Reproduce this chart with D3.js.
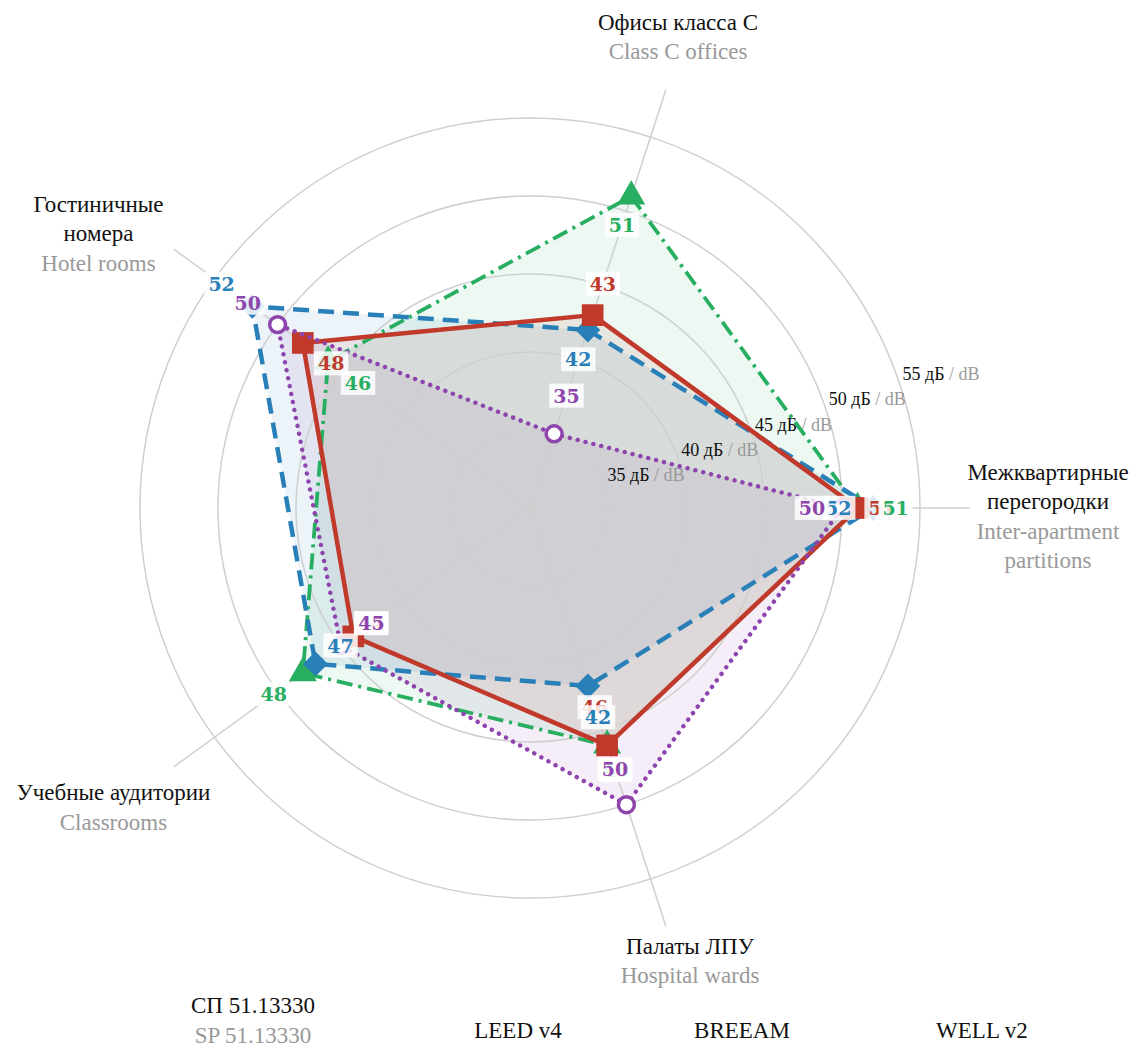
<!DOCTYPE html>
<html>
<head>
<meta charset="utf-8">
<script src="https://cdn.jsdelivr.net/npm/d3@7"></script>
<style>
  body { margin: 0; background: #fff; }
  svg { display: block; }
</style>
</head>
<body>
<svg id="chart" width="1136" height="1048"></svg>
<script>
// axes (Russian / English)
const axesRu = ["Офисы класса С", "Межквартирные перегородки", "Палаты ЛПУ", "Учебные аудитории", "Гостиничные номера"];
const axesRuLines = [["Офисы класса С"], ["Межквартирные", "перегородки"], ["Палаты ЛПУ"], ["Учебные аудитории"], ["Гостиничные", "номера"]];
const axesEnLines = [["Class C offices"], ["Inter-apartment", "partitions"], ["Hospital wards"], ["Classrooms"], ["Hotel rooms"]];

// series, dB values per axis
const seriesRu = ["СП 51.13330", "LEED v4", "BREEAM", "WELL v2"];
const seriesEn = ["SP 51.13330", "", "", ""];
const spValues = [43, 51, 46, 44, 48];
const leedValues = [42, 52, 42, 47, 52];
const breeamValues = [51, 51, 46, 48, 46];
const wellValues = [35, 50, 50, 45, 50];

const ringTicks = [35, 40, 45, 50, 55];

// styling
const colors = ["#c0392b", "#2980b9", "#27ae60", "#8e44ad"];
const dashes = [null, "16,9", "16,6,3,6", "0.1,8"];
const widths = [4.5, 4.5, 3.8, 4.4];
const markers = ["square", "diamond", "triangle", "circle"];
// radial shift of each value label from its point (px, + = outward)
const labelShift = [
  [33, 24, -40, -22, -35],
  [-31, -35, 33, -31, 38],
  [-30, 38, 26, 36, -37],
  [40, -30, -37, -38, 37]
];
const axisLabelNudge = [[-8, 9], [13, 8], [4, -28], [-8, 2], [-23, 22]];
const legendX = [253, 518, 742, 982];

const values = [spValues, leedValues, breeamValues, wellValues];

const cx = 530, cy = 508;
const svg = d3.select("#chart");
const r = d3.scaleLinear().domain([30, 55]).range([0, 390]);
const angle = d3.scaleLinear().domain([0, 5]).range([18, 378]);
const rad = i => angle(i) * Math.PI / 180;
const pt = (i, rr) => [cx + rr * Math.sin(rad(i)), cy - rr * Math.cos(rad(i))];

const g = svg.append("g");

// polygons fill
const line = d3.line().curve(d3.curveLinearClosed);
[3, 2, 1, 0].forEach(s => {
  g.append("path")
    .attr("d", line(values[s].map((v, i) => pt(i, r(v)))))
    .attr("fill", colors[s])
    .attr("fill-opacity", 0.09)
    .attr("stroke", "none");
});

// grid rings
g.selectAll(".ring").data(ringTicks).enter().append("circle")
  .attr("cx", cx).attr("cy", cy).attr("r", d => r(d))
  .attr("fill", "none").attr("stroke", "#cfcfcf").attr("stroke-width", 1.5);

// axis lines
g.selectAll(".axis").data(axesRu).enter().append("line")
  .attr("x1", cx).attr("y1", cy)
  .attr("x2", (d, i) => pt(i, 440)[0]).attr("y2", (d, i) => pt(i, 440)[1])
  .attr("stroke", "#cfcfcf").attr("stroke-width", 1.5);

// ring labels
const ringAng = 71 * Math.PI / 180;
ringTicks.forEach(t => {
  const rr = r(t) + 4;
  const tx = g.append("text")
    .attr("x", cx + rr * Math.sin(ringAng))
    .attr("y", cy - rr * Math.cos(ringAng))
    .attr("font-family", "Liberation Serif, serif")
    .attr("font-size", 18);
  tx.append("tspan").attr("fill", "#111").text(t + " дБ");
  tx.append("tspan").attr("fill", "#999").text(" / dB");
});

// series lines + markers
[2, 1, 0, 3].forEach(s => {
  const pts = values[s].map((v, i) => pt(i, r(v)));
  g.append("path")
    .attr("d", line(pts))
    .attr("fill", "none")
    .attr("stroke", colors[s])
    .attr("stroke-width", widths[s])
    .attr("stroke-dasharray", dashes[s])
    .attr("stroke-linecap", s === 3 ? "round" : "butt")
    .attr("stroke-linejoin", "round");
  const kind = markers[s];
  const sym = kind === "triangle" ? d3.symbolTriangle : kind === "circle" ? d3.symbolCircle : d3.symbolSquare;
  const size = { square: 470, diamond: 310, triangle: 340, circle: 200 }[kind];
  g.selectAll(".m" + s).data(pts).enter().append("path")
    .attr("transform", d => `translate(${d[0]},${d[1]})` + (kind === "diamond" ? " rotate(45)" : ""))
    .attr("d", d3.symbol().type(sym).size(size))
    .attr("fill", kind === "circle" ? "#fff" : colors[s])
    .attr("stroke", colors[s])
    .attr("stroke-width", kind === "circle" ? 3.5 : 0);
});

// value labels
[0, 2, 1, 3].forEach(s => {
  values[s].forEach((v, i) => {
    const p = pt(i, r(v) + labelShift[s][i]);
    const lg = g.append("g").attr("transform", `translate(${p[0]},${p[1]})`);
    const txt = lg.append("text")
      .attr("text-anchor", "middle")
      .attr("dy", "0.36em")
      .attr("font-family", "DejaVu Serif, serif")
      .attr("font-weight", "bold")
      .attr("font-size", 19)
      .attr("fill", colors[s])
      .text(v);
    const bb = txt.node().getBBox();
    lg.insert("rect", "text")
      .attr("x", bb.x - 4).attr("y", bb.y - 1)
      .attr("width", bb.width + 8).attr("height", bb.height + 2)
      .attr("fill", "#fff").attr("fill-opacity", 0.85);
  });
});

// axis labels
const lh = 29.5;
axesRuLines.forEach((ru, i) => {
  const lines = ru.map(t => ({ t, c: "#111" })).concat(axesEnLines[i].map(t => ({ t, c: "#999" })));
  const p = pt(i, 505);
  const x = p[0] + axisLabelNudge[i][0];
  const yc = p[1] + axisLabelNudge[i][1];
  const y0 = yc - (lines.length - 1) * lh / 2 + 8;
  lines.forEach((l, k) => {
    svg.append("text")
      .attr("x", x).attr("y", y0 + k * lh)
      .attr("text-anchor", "middle")
      .attr("font-family", "Liberation Serif, serif")
      .attr("font-size", 23)
      .attr("fill", l.c)
      .text(l.t);
  });
});

// legend (text only)
seriesRu.forEach((name, i) => {
  const twoLine = seriesEn[i] !== "";
  svg.append("text")
    .attr("x", legendX[i]).attr("y", twoLine ? 1013 : 1038)
    .attr("text-anchor", "middle")
    .attr("font-family", "Liberation Serif, serif")
    .attr("font-size", 23)
    .attr("fill", "#111")
    .text(name);
  if (twoLine) {
    svg.append("text")
      .attr("x", legendX[i]).attr("y", 1043)
      .attr("text-anchor", "middle")
      .attr("font-family", "Liberation Serif, serif")
      .attr("font-size", 23)
      .attr("fill", "#999")
      .text(seriesEn[i]);
  }
});
</script>
</body>
</html>
